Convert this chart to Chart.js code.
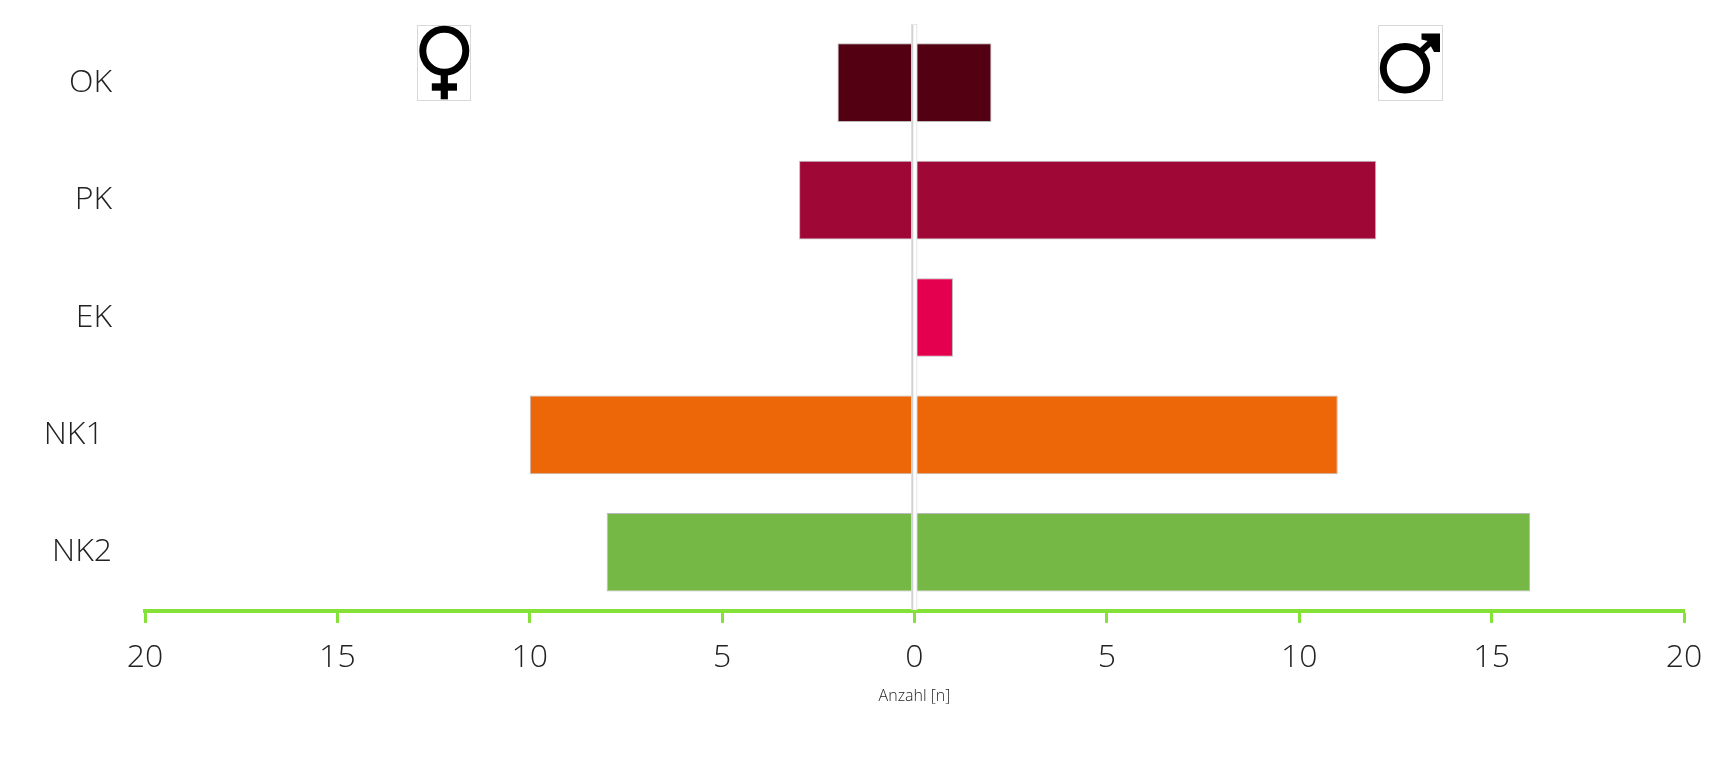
<!DOCTYPE html>
<html>
<head>
<meta charset="utf-8">
<script src="https://cdn.jsdelivr.net/npm/chart.js@4"></script>
<style>
html,body{margin:0;padding:0;background:#fff;overflow:hidden}
#wrap{position:relative;width:1717px;height:764px}
canvas{position:absolute;left:0;top:0}
svg.sym{position:absolute;left:0;top:0;pointer-events:none}
</style>
</head>
<body>
<div id="wrap">
<canvas id="c" width="1717" height="764" style="width:1717px;height:764px"></canvas>
<svg class="sym" width="1717" height="764" viewBox="0 0 1717 764">
  <rect x="417.5" y="25.5" width="53" height="75" fill="#fff" stroke="#d8d8d8"/>
  <circle cx="444.3" cy="50.8" r="21.5" fill="none" stroke="#000" stroke-width="7"/>
  <rect x="440.7" y="74" width="7.2" height="25.3" fill="#000"/>
  <rect x="431.8" y="83.3" width="25.2" height="7.4" fill="#000"/>
  <rect x="1378.5" y="25.5" width="64" height="75" fill="#fff" stroke="#d8d8d8"/>
  <circle cx="1405" cy="68.3" r="21.7" fill="none" stroke="#000" stroke-width="7"/>
  <line x1="1419" y1="53" x2="1432" y2="41" stroke="#000" stroke-width="6"/>
  <polygon points="1421.5,33.5 1440,33.5 1440,52 1434,52 1428,41 1421.5,39.5" fill="#000"/>
</svg>
</div>
<script>
const categories = ['OK', 'PK', 'EK', 'NK1 ', 'NK2'];
const femaleCounts = [-2, -3, 0, -10, -8];
const maleCounts = [2, 12, 1, 11, 16];
const barColors = ['#520012', '#9e0736', '#e5004f', '#ed6708', '#76b846'];
const axisTitle = 'Anzahl [n]';
const axisGreen = '#84e138';
const fontFamily = "'Open Sans', sans-serif";

const centerLine = {
  id: 'centerLine',
  afterDraw(chart) {
    const { ctx, chartArea, scales } = chart;
    const x = scales.x.getPixelForValue(0);
    const h = chartArea.bottom - chartArea.top - 1;
    ctx.save();
    ctx.fillStyle = '#fff';
    ctx.fillRect(x - 3.2, chartArea.top, 5.8, h);
    ctx.fillStyle = '#d2d2d2';
    ctx.fillRect(x - 3.2, chartArea.top, 2, h);
    ctx.fillStyle = '#e6e6e6';
    ctx.fillRect(x + 1.8, chartArea.top, 1, h);
    ctx.fillRect(x - 3.2, chartArea.top, 5.8, 1);
    ctx.restore();
  }
};

new Chart(document.getElementById('c'), {
  type: 'bar',
  data: {
    labels: categories,
    datasets: [
      { label: 'w', data: femaleCounts, backgroundColor: barColors, borderColor: 'rgba(130,130,130,0.55)', borderWidth: 1, borderSkipped: false },
      { label: 'm', data: maleCounts, backgroundColor: barColors, borderColor: 'rgba(130,130,130,0.55)', borderWidth: 1, borderSkipped: false }
    ]
  },
  options: {
    indexAxis: 'y',
    responsive: false,
    animation: false,
    devicePixelRatio: 1,
    layout: { padding: { left: 0, right: 33, top: 24, bottom: 57.5 } },
    plugins: { legend: { display: false }, tooltip: { enabled: false } },
    datasets: { bar: { barPercentage: 0.67, categoryPercentage: 1 } },
    scales: {
      x: {
        stacked: true,
        min: -20,
        max: 20,
        afterFit(s) { s.paddingLeft = 0; s.paddingRight = 0; },
        ticks: {
          stepSize: 5,
          color: '#222',
          padding: 16,
          maxRotation: 0,
          font: { family: fontFamily, size: 32, weight: 300 },
          callback: v => Math.abs(v)
        },
        grid: { drawOnChartArea: false, drawTicks: true, tickLength: 12, tickWidth: 3, tickColor: axisGreen },
        border: { color: axisGreen, width: 4 },
        title: { display: true, text: axisTitle, color: '#222', padding: { top: -6, bottom: 0 }, font: { family: fontFamily, size: 16, weight: 300 } }
      },
      y: {
        stacked: true,
        afterFit(s) { s.width = 145; s.paddingTop = 0; s.paddingBottom = 0; },
        ticks: {
          color: '#222',
          padding: 33,
          font: { family: fontFamily, size: 32, weight: 300 }
        },
        grid: { display: false, drawTicks: false },
        border: { display: false }
      }
    }
  },
  plugins: [centerLine]
});
</script>
</body>
</html>
